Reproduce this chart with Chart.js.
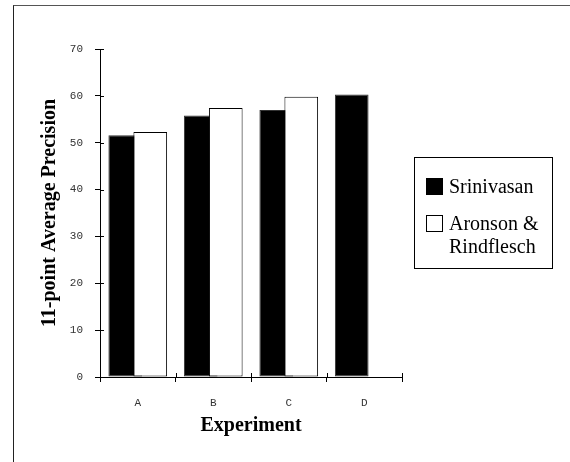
<!DOCTYPE html>
<html>
<head>
<meta charset="utf-8">
<script src="https://cdn.jsdelivr.net/npm/chart.js@4.4.1/dist/chart.umd.min.js"></script>
<style>
    body { margin: 0; background: #fff; }
    #wrap { position: relative; width: 570px; height: 462px; overflow: hidden; }
    #frame { position: absolute; left: 13px; top: 5px; width: 560px; height: 480px;
             border-left: 1px solid #222; border-top: 1px solid #555; border-right: 1px solid #888; }
    #legend { position: absolute; left: 414px; top: 157px; width: 137px; height: 110px;
              border: 1px solid #000; font-family: "Liberation Serif", "Times New Roman", serif;
              font-size: 20px; color: #000; }
    .box { position: absolute; left: 11px; width: 15px; height: 15px; border: 1px solid #000; }
    .txt { position: absolute; left: 34px; line-height: 23px; white-space: nowrap; }
</style>
</head>
<body>
<div id="wrap">
    <div id="frame"></div>
    <canvas id="chart" width="570" height="462"></canvas>
    <div id="legend">
        <div class="box" style="top:20px;background:#000"></div>
        <div class="txt" style="top:17px">Srinivasan</div>
        <div class="box" style="top:57px;background:#fff"></div>
        <div class="txt" style="top:54px">Aronson &amp;<br>Rindflesch</div>
    </div>
</div>
<script>
// data
const experiments = ["A", "B", "C", "D"];
const srinivasan = [51.6, 55.8, 57.0, 60.3];
const aronson = [52.3, 57.4, 59.8, null];
const yTicks = [0, 10, 20, 30, 40, 50, 60, 70];

const tickFont = { family: "Liberation Mono", size: 11 };
const titleFont = { family: "Liberation Serif", size: 20, weight: "bold" };

// draw datasets in index order so the white bars sit on top of the black ones
const drawInOrder = {
    id: "drawInOrder",
    beforeDatasetsDraw(chart) {
        chart.getSortedVisibleDatasetMetas()
            .sort((a, b) => a.index - b.index)
            .forEach(meta => meta.controller.draw());
        return false;
    }
};

// inner half of the tick marks, so they cross the axis lines
const crossTicks = {
    id: "crossTicks",
    afterDraw(chart) {
        const { ctx, scales: { x, y } } = chart;
        ctx.save();
        ctx.strokeStyle = "#000";
        ctx.lineWidth = 1;
        ctx.beginPath();
        y.ticks.forEach((t, i) => {
            const py = Math.round(y.getPixelForTick(i)) + 0.5;
            ctx.moveTo(y.right, py);
            ctx.lineTo(y.right + 4, py);
        });
        const half = (x.getPixelForTick(1) - x.getPixelForTick(0)) / 2;
        for (let i = 0; i <= experiments.length; i++) {
            const px = Math.round(x.getPixelForTick(0) - half + i * half * 2) + 0.5;
            ctx.moveTo(px, x.top);
            ctx.lineTo(px, x.top - 4);
        }
        ctx.stroke();
        ctx.restore();
    }
};

new Chart(document.getElementById("chart"), {
    type: "bar",
    data: {
        labels: experiments,
        datasets: [{
            label: "Srinivasan",
            data: srinivasan,
            backgroundColor: "#000",
            borderColor: "#333",
            borderWidth: 1,
            borderSkipped: false
        }, {
            label: "Aronson & Rindflesch",
            data: aronson,
            backgroundColor: "#fff",
            borderColor: "#000",
            borderWidth: 1,
            borderSkipped: false
        }]
    },
    options: {
        responsive: false,
        animation: false,
        categoryPercentage: 0.663,
        barPercentage: 1.345,
        layout: { padding: { top: 49, right: 168, bottom: 0, left: 0 } },
        plugins: {
            legend: { display: false },
            tooltip: { enabled: false }
        },
        scales: {
            x: {
                grid: { offset: true, drawOnChartArea: false, color: "#000", tickLength: 5 },
                border: { color: "#000", width: 1 },
                ticks: { font: tickFont, color: "#333", padding: 14 },
                title: { display: true, text: "Experiment", font: titleFont, color: "#000",
                         padding: { top: 0, bottom: 24 } },
                afterFit: s => { s.height = 85; }
            },
            y: {
                min: 0,
                max: 70,
                afterBuildTicks: s => { s.ticks = yTicks.map(v => ({ value: v })); },
                grid: { drawOnChartArea: false, color: "#000", tickLength: 5 },
                border: { color: "#000", width: 1 },
                ticks: { font: tickFont, color: "#333", padding: 12 },
                title: { display: true, text: "11-point Average Precision", font: titleFont, color: "#000",
                         padding: { top: 38, bottom: 0 } },
                afterFit: s => { s.width = 100; }
            }
        }
    },
    plugins: [drawInOrder, crossTicks]
});
</script>
</body>
</html>
